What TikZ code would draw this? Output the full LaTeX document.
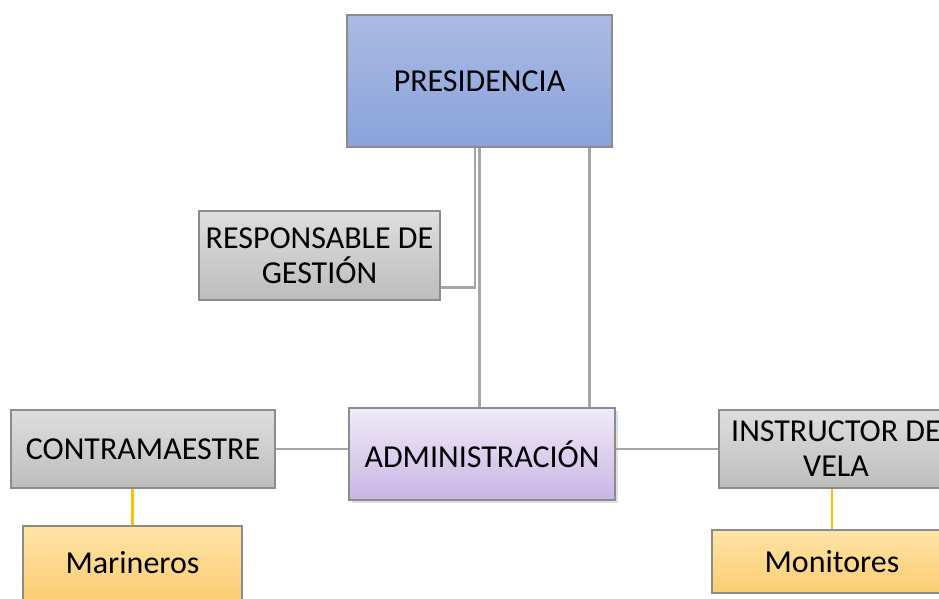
\documentclass[tikz,border=0pt]{standalone}
\usepackage{fontspec}
\setmainfont{Carlito}
\usepackage{xcolor}
\usepackage{tikz}
\usetikzlibrary{shadows}

\definecolor{presTop}{HTML}{AABAE3}
\definecolor{presBot}{HTML}{8AA3DB}
\definecolor{greyTop}{HTML}{DEDEDE}
\definecolor{greyBot}{HTML}{BDBDBD}
\definecolor{lilaTop}{HTML}{F0EAF8}
\definecolor{lilaBot}{HTML}{C9B5E5}
\definecolor{ambarTop}{HTML}{FEE4A6}
\definecolor{ambarBot}{HTML}{FCCD72}
\definecolor{boxLine}{HTML}{8C8C8C}
\definecolor{grisLine}{HTML}{A6A6A6}
\definecolor{ambarLine}{HTML}{FFC000}

\tikzset{
  cargo/.style={draw=boxLine, line width=0.6pt, inner sep=0pt, align=center,
    font=\fontsize{18.2}{20}\selectfont},
  grisbox/.style={cargo, top color=greyTop, bottom color=greyBot},
  ambarbox/.style={cargo, top color=ambarTop, bottom color=ambarBot},
  linea/.style={draw=grisLine, line width=1.2pt},
  lineaamb/.style={draw=ambarLine, line width=1.2pt}
}

\begin{document}
\begin{tikzpicture}[x=0.2mm, y=-0.2mm]
    \useasboundingbox (0,0) rectangle (939,598);
    \clip (0,0) rectangle (939,598);
    % boxes
    \node[cargo, top color=presTop, bottom color=presBot, minimum width=53mm, minimum height=26.4mm] (pres) at (479.5,81) {PRESIDENCIA};
    \node[grisbox, minimum width=48.2mm, minimum height=17.8mm] (resp) at (319.5,255.5) {RESPONSABLE DE\\GESTIÓN};
    \node[cargo, top color=lilaTop, bottom color=lilaBot, minimum width=53.2mm, minimum height=18.4mm,
      drop shadow={opacity=0.25, shadow xshift=0.6mm, shadow yshift=-0.6mm}] (admin) at (482,454) {ADMINISTRACIÓN};
    \node[grisbox, minimum width=52.8mm, minimum height=15.6mm] (contra) at (143,449) {CONTRAMAESTRE};
    \node[grisbox, minimum width=46.8mm, minimum height=15.6mm] (instr) at (836,449) {INSTRUCTOR DE\\VELA};
    \node[ambarbox, minimum width=43.8mm, minimum height=14.8mm] (mari) at (132.5,563) {Marineros};
    \node[ambarbox, minimum width=48mm, minimum height=12.6mm] (moni) at (832,561.5) {Monitores};
    % connectors
    \draw[linea] (pres.south) -- (pres.south |- admin.north);
    \draw[linea] ([xshift=-4.6mm]pres.south east) -- ([xshift=-4.6mm]pres.south east |- admin.north);
    \draw[linea] ([xshift=-0.9mm]pres.south) |- ([yshift=2.6mm]resp.south east);
    \draw[linea] (contra.east) -- (contra.east -| admin.west);
    \draw[linea] (instr.west -| admin.east) -- (instr.west);
    \draw[lineaamb] (contra.south -| mari.north) -- (mari.north);
    \draw[lineaamb] (instr.south -| moni.north) -- (moni.north);
  \end{tikzpicture}
\end{document}
